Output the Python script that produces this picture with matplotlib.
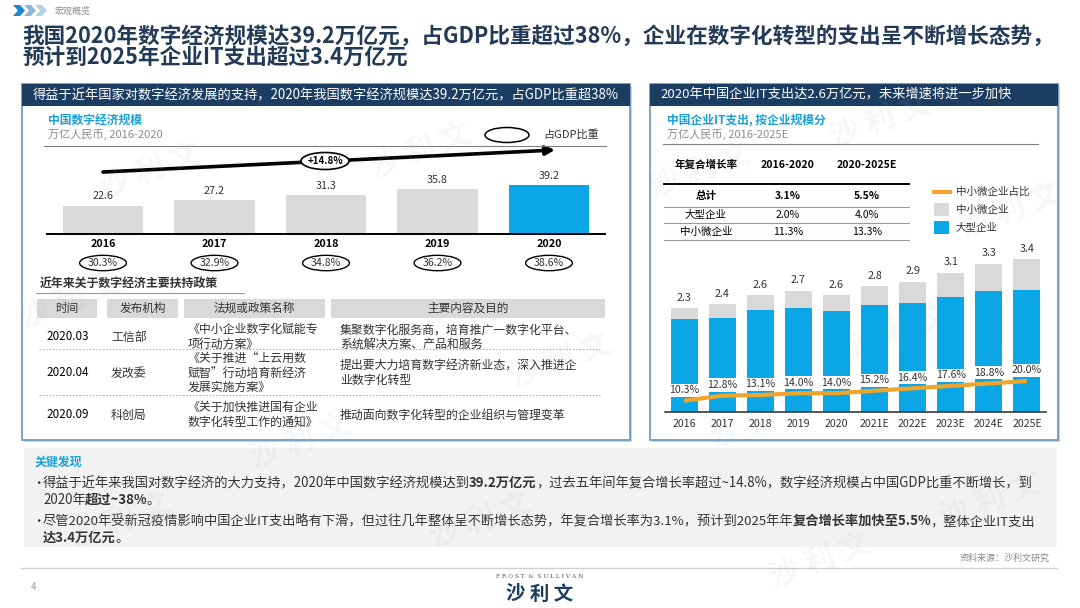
import matplotlib
matplotlib.use('Agg')
import matplotlib.pyplot as plt
from matplotlib.patches import Rectangle, Ellipse, Polygon, FancyArrowPatch

plt.rcParams['font.family'] = ['Noto Sans CJK SC', 'DejaVu Sans']

# ---------------- data ----------------
section_label = '宏观概览'
title_line1 = '我国2020年数字经济规模达39.2万亿元，占GDP比重超过38%，企业在数字化转型的支出呈不断增长态势，'
title_line2 = '预计到2025年企业IT支出超过3.4万亿元'

left_header = '得益于近年国家对数字经济发展的支持，2020年我国数字经济规模达39.2万亿元，占GDP比重超38%'
left_subtitle = '中国数字经济规模'
left_unit = '万亿人民币, 2016-2020'
left_legend = '占GDP比重'
gdp_years = ['2016', '2017', '2018', '2019', '2020']
gdp_values = [22.6, 27.2, 31.3, 35.8, 39.2]
gdp_share = ['30.3%', '32.9%', '34.8%', '36.2%', '38.6%']
gdp_cagr = '+14.8%'

policy_title = '近年来关于数字经济主要扶持政策'
policy_header = ['时间', '发布机构', '法规或政策名称', '主要内容及目的']
policy_dates = ['2020.03', '2020.04', '2020.09']
policy_orgs = ['工信部', '发改委', '科创局']
policy_names = [['《中小企业数字化赋能专', '项行动方案》'],
                ['《关于推进“上云用数', '赋智”行动培育新经济', '发展实施方案》'],
                ['《关于加快推进国有企业', '数字化转型工作的通知》']]
policy_contents = [['集聚数字化服务商，培育推广一数字化平台、', '系统解决方案、产品和服务'],
                   ['提出要大力培育数字经济新业态，深入推进企', '业数字化转型'],
                   ['推动面向数字化转型的企业组织与管理变革']]

right_header = '2020年中国企业IT支出达2.6万亿元，未来增速将进一步加快'
right_subtitle = '中国企业IT支出, 按企业规模分'
right_unit = '万亿人民币, 2016-2025E'
it_years = ['2016', '2017', '2018', '2019', '2020', '2021E', '2022E', '2023E', '2024E', '2025E']
it_total = [2.3, 2.4, 2.6, 2.7, 2.6, 2.8, 2.9, 3.1, 3.3, 3.4]
it_large = [2.06, 2.09, 2.26, 2.32, 2.24, 2.37, 2.42, 2.55, 2.68, 2.72]
it_sme = [0.24, 0.31, 0.34, 0.38, 0.36, 0.43, 0.48, 0.55, 0.62, 0.68]
it_sme_share = [10.3, 12.8, 13.1, 14.0, 14.0, 15.2, 16.4, 17.6, 18.8, 20.0]
legend_labels = ['中小微企业占比', '中小微企业', '大型企业']
cagr_header = ['年复合增长率', '2016-2020', '2020-2025E']
cagr_rows = [['总计', '3.1%', '5.5%'],
             ['大型企业', '2.0%', '4.0%'],
             ['中小微企业', '11.3%', '13.3%']]

findings_title = '关键发现'
finding1 = [('得益于近年来我国对数字经济的大力支持，2020年中国数字经济规模达到', False), ('39.2万亿元', True),
            ('，过去五年间年复合增长率超过~14.8%，数字经济规模占中国GDP比重不断增长，到', False)]
finding1b = [('2020年', False), ('超过~38%', True), ('。', False)]
finding2 = [('尽管2020年受新冠疫情影响中国企业IT支出略有下滑，但过往几年整体呈不断增长态势，年复合增长率为3.1%，预计到2025年年', False),
            ('复合增长率加快至5.5%', True), ('，整体企业IT支出', False)]
finding2b = [('达3.4万亿元', True), ('。', False)]
source_text = '资料来源：沙利文研究'
page_no = '4'
logo_small = 'F R O S T  &  S U L L I V A N'
logo_big = '沙 利 文'
watermark = '沙 利 文'

# ---------------- style ----------------
NAVY = '#1c3d62'
TITLE_C = '#233a56'
BAR_BLUE = '#0aa6e6'
TXT_CYAN = '#1a9fd6'
GRAY_BAR = '#d9d9d9'
ORANGE = '#f0a52a'
BORDER = '#6f9dc2'
DARK = '#333333'
MID = '#8a8a8a'

W, H = 1080, 608
fig = plt.figure(figsize=(W / 100, H / 100), dpi=100)
fig.patch.set_facecolor('white')
L = fig.add_axes([0, 0, 1, 1])
L.set_xlim(0, W)
L.set_ylim(H, 0)
L.axis('off')
fig.canvas.draw()
R = fig.canvas.get_renderer()


def tw(t):
    return t.get_window_extent(R).width


def fit(x, y, s, target, fs, **kw):
    t = L.text(x, y, s, fontsize=fs, **kw)
    t.set_fontsize(fs * target / tw(t))
    return t


def rich(x, y, segs, fs, color, target=None):
    def draw(f):
        cx = x
        arts = []
        for s, b in segs:
            t = L.text(cx, y, s, fontsize=f, fontweight='bold' if b else 'normal',
                       color=color, va='baseline', ha='left')
            cx += tw(t) - 0.8
            arts.append(t)
        return cx, arts
    end, arts = draw(fs)
    if target:
        for a in arts:
            a.remove()
        fs = fs * target / (end - x)
        draw(fs)
    return fs


# ---------------- top ----------------
chev_cols = ['#1f86d0', '#8fb6d6', '#b9cfe2']
for i, c in enumerate(chev_cols):
    x0 = 13 + i * 11
    L.add_patch(Polygon([(x0, 5), (x0 + 7, 5), (x0 + 12, 10.5), (x0 + 7, 16), (x0, 16), (x0 + 5, 10.5)],
                        closed=True, fc=c, ec='none'))
L.text(55, 11, section_label, fontsize=6.5, color=MID, va='center')
t1 = fit(22, 43, title_line1, 1030, 15.5, fontweight='bold', color=TITLE_C, va='baseline')
L.text(22, 64, title_line2, fontweight='bold', color=TITLE_C, va='baseline', fontsize=t1.get_fontsize())

# ---------------- panels ----------------
for (px, pw) in [(22, 608), (650, 408)]:
    L.add_patch(Rectangle((px + 2, 86), pw, 356, fc='#c9d2dc', ec='none'))
    L.add_patch(Rectangle((px, 84), pw, 356, fc='white', ec=BORDER, lw=1.3))
    L.add_patch(Rectangle((px, 84), pw, 22, fc=NAVY, ec='none'))
fit(326, 95, left_header, 588, 9.5, color='white', ha='center', va='center')
fit(660, 95, right_header, 352, 9.5, color='white', ha='left', va='center')

# ---------------- left chart ----------------
L.text(48, 120, left_subtitle, fontsize=8.5, color=TXT_CYAN, fontweight='bold', va='center')
L.text(48, 134, left_unit, fontsize=8, color=MID, va='center')
L.plot([44, 606], [146, 146], color='#7f7f7f', lw=0.8)
L.add_patch(Ellipse((507, 135), 44, 15, fc='white', ec='black', lw=1.1))
L.text(543, 134, left_legend, fontsize=8, color=DARK, va='center')

axL = fig.add_axes([47.25 / W, (H - 233.5) / H, 557.5 / W, 61.5 / H])
axL.patch.set_alpha(0)
xl = list(range(len(gdp_years)))
axL.bar(xl, gdp_values, width=0.72,
        color=[GRAY_BAR] * (len(gdp_values) - 1) + [BAR_BLUE], zorder=2)
axL.set_xlim(-0.5, len(gdp_years) - 0.5)
axL.set_ylim(0, 50)
for s in ['top', 'right', 'left']:
    axL.spines[s].set_visible(False)
axL.spines['bottom'].set_color('black')
axL.spines['bottom'].set_linewidth(1.4)
axL.set_xticks([])
axL.set_yticks([])
for i, (v, yr, sh) in enumerate(zip(gdp_values, gdp_years, gdp_share)):
    axL.text(i, v + 7.5, f'{v:.1f}', ha='center', va='center', fontsize=7.8, color=DARK)
    axL.text(i, -8.6, yr, ha='center', va='center', fontsize=7.8, fontweight='bold', color='black')
    axL.add_patch(Ellipse((i, -24), 0.42, 12.5, fc='white', ec='black', lw=1.0, clip_on=False))
    axL.text(i, -24, sh, ha='center', va='center', fontsize=7.6, color=DARK, clip_on=False)

L.add_patch(FancyArrowPatch((103, 172), (555, 150), arrowstyle='-|>', mutation_scale=13,
                            lw=2.6, color='black', shrinkA=0, shrinkB=0))
L.add_patch(Ellipse((325, 161), 48, 17, fc='white', ec='black', lw=1.2, zorder=5))
L.text(325, 161, gdp_cagr, ha='center', va='center', fontsize=7, fontweight='bold', zorder=6)

# ---------------- policy table ----------------
L.text(40, 284, policy_title, fontsize=8.6, color=DARK, fontweight='bold', va='center')
L.plot([36, 244], [293, 293], color='#9a9a9a', lw=0.8)
col_boxes = [(37, 97), (107, 178), (184, 325), (331, 605)]
for (a, b), h in zip(col_boxes, policy_header):
    L.add_patch(Rectangle((a, 299), b - a, 19, fc='#d9d9d9', ec='none'))
    L.text((a + b) / 2, 308.5, h, ha='center', va='center', fontsize=8.4, color=DARK)
row_y = [337, 373, 415]
row_lines = [349, 395]
for ry, d, o, nm, ct in zip(row_y, policy_dates, policy_orgs, policy_names, policy_contents):
    L.text(46, ry, d, fontsize=8.4, color='black', va='center')
    L.text(111, ry, o, fontsize=8.6, color=DARK, va='center')
    n = len(nm)
    for k, line in enumerate(nm):
        L.text(188, ry + (k - (n - 1) / 2) * 14.5, line, fontsize=8.6, color=DARK, va='center')
    m = len(ct)
    for k, line in enumerate(ct):
        L.text(340, ry + (k - (m - 1) / 2) * 14.5, line, fontsize=8.6, color=DARK, va='center')
for ly in row_lines:
    L.plot([39, 600], [ly, ly], color='#b5b5b5', lw=0.8, ls=(0, (1.5, 1.5)))

# ---------------- right chart header / table ----------------
L.text(667, 120, right_subtitle, fontsize=8.5, color=TXT_CYAN, fontweight='bold', va='center')
L.text(667, 134, right_unit, fontsize=8, color=MID, va='center')
L.plot([663, 1038], [144, 144], color='#7f7f7f', lw=0.8)
cag_x = [706, 788, 867]
for x, h in zip(cag_x, cagr_header):
    L.text(x, 165, h, ha='center', va='center', fontsize=7.6, fontweight='bold', color='black')
L.plot([664, 909], [184, 184], color='black', lw=1.4)
cag_row_y = [196, 215, 232]
cag_line_y = [207, 223, 240]
for ri, (ry, row) in enumerate(zip(cag_row_y, cagr_rows)):
    for x, v in zip(cag_x, row):
        L.text(x, ry, v, ha='center', va='center', fontsize=7.6,
               fontweight='bold' if ri == 0 else 'normal', color='black')
for ly in cag_line_y:
    L.plot([664, 909], [ly, ly], color='#9a9a9a', lw=0.8)
# legend
L.plot([934, 950], [192, 192], color=ORANGE, lw=3)
L.add_patch(Rectangle((934, 203), 15, 13, fc=GRAY_BAR, ec='none'))
L.add_patch(Rectangle((934, 221), 15, 13, fc=BAR_BLUE, ec='none'))
for y, s in zip([192, 210, 228], legend_labels):
    L.text(956, y, s, fontsize=7.6, color=DARK, va='center')

# ---------------- right chart ----------------
ph = 44.8 * 4
axR = fig.add_axes([665 / W, (H - 411.5) / H, 381 / W, ph / H])
axR.patch.set_alpha(0)
xr = list(range(len(it_years)))
axR.bar(xr, it_large, width=0.71, color=BAR_BLUE, zorder=2)
axR.bar(xr, it_sme, bottom=it_large, width=0.71, color=GRAY_BAR, zorder=2)
axR.set_xlim(-0.5, len(it_years) - 0.5)
axR.set_ylim(0, 4)
for s in ['top', 'right', 'left']:
    axR.spines[s].set_visible(False)
axR.spines['bottom'].set_color('#3a3a3a')
axR.spines['bottom'].set_linewidth(1.2)
axR.set_xticks([])
axR.set_yticks([])
for i, (tot, yr) in enumerate(zip(it_total, it_years)):
    axR.text(i, tot + 0.23, f'{tot:.1f}', ha='center', va='center', fontsize=7.8, color=DARK)
    axR.text(i, -0.27, yr, ha='center', va='center', fontsize=7.6, color=DARK)
axR2 = axR.twinx()
axR2.set_ylim(4.98, 4.98 + ph / 2.03)
axR2.axis('off')
axR2.plot(xr, it_sme_share, color=ORANGE, lw=3, zorder=5, solid_capstyle='butt')
for i, p in enumerate(it_sme_share):
    axR2.text(i, p + 5.2, f'{p:.1f}%', ha='center', va='center', fontsize=7.6, color=DARK, zorder=4,
              bbox=dict(boxstyle='square,pad=0.15', fc='white', ec='none'))

# ---------------- key findings ----------------
L.add_patch(Rectangle((24, 448), 1033, 99, fc='#f2f2f2', ec='none'))
L.text(35, 462, findings_title, fontsize=8.6, color=TXT_CYAN, fontweight='bold', va='center')
for y in [483, 521]:
    L.text(32, y, '•', fontsize=9, color=DARK, va='center')
fsb = rich(43, 487, finding1, 9, DARK, target=990)
rich(43, 504, finding1b, fsb, DARK)
fsb2 = rich(43, 525, finding2, 9, DARK, target=990)
rich(43, 542, finding2b, fsb2, DARK)
L.text(1050, 558, source_text, fontsize=6.5, color=MID, ha='right', va='center')
L.plot([21, 1057], [568, 568], color='#d0d0d0', lw=1)
L.text(31, 587, page_no, fontsize=7, color='#a0a0a0', va='center')
L.text(540, 576.5, logo_small, fontsize=4.2, color='#555555', ha='center', va='center', family='DejaVu Serif')
L.text(540, 594, logo_big, fontsize=14, color=NAVY, ha='center', va='center', fontweight='bold')

# ---------------- watermarks ----------------
wm_pos = [(70, 300), (150, 170), (420, 150), (560, 360), (300, 440), (700, 170),
          (880, 120), (900, 330), (760, 420), (1010, 210), (990, 500), (120, 520), (480, 520), (820, 560)]
for (x, y) in wm_pos:
    L.text(x, y, watermark, fontsize=22, color='#9aa4ad', alpha=0.09, rotation=20,
           ha='center', va='center', fontweight='bold', zorder=10)

fig.savefig('out.png', dpi=100)
